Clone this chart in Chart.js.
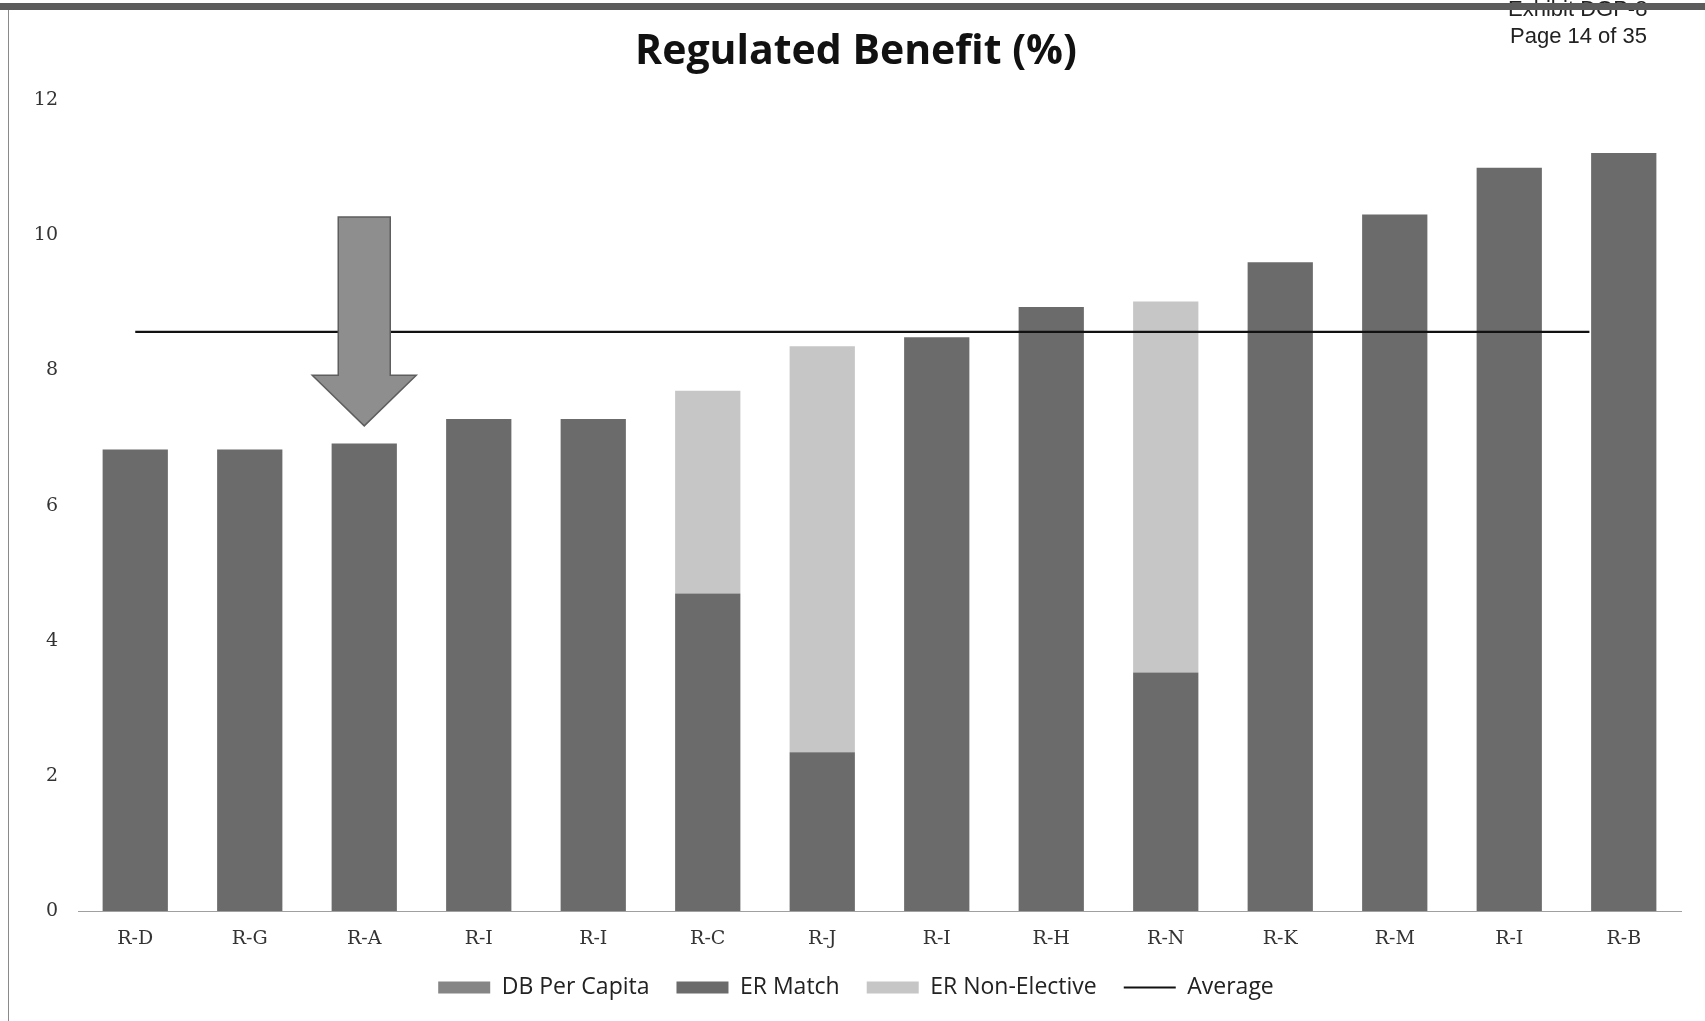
<!DOCTYPE html>
<html>
<head>
<meta charset="utf-8">
<script src="https://cdn.jsdelivr.net/npm/chart.js@4.4.1/dist/chart.umd.min.js"></script>
<style>
  html, body { margin: 0; padding: 0; background: #fff; }
  #wrap { position: relative; width: 1705px; height: 1021px; overflow: hidden; background: #fff; }
  #chart { position: absolute; left: 0; top: 0; }
  .hdr { position: absolute; font-family: "Liberation Sans", Arial, sans-serif; font-size: 22px; line-height: 22px; color: #222; white-space: nowrap; }
  #frameTop { position: absolute; left: 0; top: 3px; width: 1705px; height: 7px; background: #5c5c5c; }
  #frameLeft { position: absolute; left: 8px; top: 10px; width: 1px; height: 1011px; background: #8a8a8a; }
</style>
</head>
<body>
<div id="wrap">
  <canvas id="chart" width="1705" height="1021"></canvas>
  <div class="hdr" style="left:1508px; top:-2px;">Exhibit DGP-8</div>
  <div class="hdr" style="left:1510px; top:25px;">Page 14 of 35</div>
  <div id="frameTop"></div>
  <div id="frameLeft"></div>
</div>
<script>
// Plan categories, left to right
const categories = ['R-D', 'R-G', 'R-A', 'R-I', 'R-I', 'R-C', 'R-J', 'R-I', 'R-H', 'R-N', 'R-K', 'R-M', 'R-I', 'R-B'];

// Benefit components, percent of pay
const dbPerCapita   = [0, 0, 0, 0, 0, 0, 0, 0, 0, 0, 0, 0, 0, 0];
const erMatch       = [6.83, 6.83, 6.92, 7.28, 7.28, 4.70, 2.35, 8.49, 8.94, 3.53, 9.60, 10.31, 11.00, 11.22];
const erNonElective = [0, 0, 0, 0, 0, 3.00, 6.01, 0, 0, 5.49, 0, 0, 0, 0];

// Peer average and the category span the average line covers
const averageValue = 8.57;
const averageSpan = [0, 12.7];

// Value axis ticks
const yTicks = [0, 2, 4, 6, 8, 10, 12];

// Callout arrow pointing at the highlighted plan (values on the y scale)
const arrowCategory = 2;
const arrowTop = 10.27;
const arrowHeadBase = 7.93;
const arrowTip = 7.18;

const arrowPlugin = {
  id: 'calloutArrow',
  afterDatasetsDraw(chart) {
    const { ctx, scales: { x, y } } = chart;
    const cx = x.getPixelForValue(arrowCategory);
    const shaft = 26, head = 52;
    const yTop = y.getPixelForValue(arrowTop);
    const yBase = y.getPixelForValue(arrowHeadBase);
    const yTip = y.getPixelForValue(arrowTip);
    ctx.save();
    ctx.beginPath();
    ctx.moveTo(cx - shaft, yTop);
    ctx.lineTo(cx + shaft, yTop);
    ctx.lineTo(cx + shaft, yBase);
    ctx.lineTo(cx + head, yBase);
    ctx.lineTo(cx, yTip);
    ctx.lineTo(cx - head, yBase);
    ctx.lineTo(cx - shaft, yBase);
    ctx.closePath();
    ctx.fillStyle = '#8e8e8e';
    ctx.fill();
    ctx.lineWidth = 1.5;
    ctx.strokeStyle = '#5e5e5e';
    ctx.stroke();
    ctx.restore();
  }
};

new Chart(document.getElementById('chart'), {
  type: 'bar',
  data: {
    labels: categories,
    datasets: [
      { label: 'DB Per Capita', data: dbPerCapita, backgroundColor: '#858585', order: 2 },
      { label: 'ER Match', data: erMatch, backgroundColor: '#6b6b6b', order: 2 },
      { label: 'ER Non-Elective', data: erNonElective, backgroundColor: '#c6c6c6', order: 2 },
      {
        type: 'line', label: 'Average', xAxisID: 'x2', order: 1,
        data: averageSpan.map(v => ({ x: v, y: averageValue })),
        borderColor: '#111', backgroundColor: '#111', borderWidth: 2.2, pointRadius: 0
      }
    ]
  },
  options: {
    responsive: false,
    animation: false,
    layout: { padding: { left: 31, right: 24, top: 8, bottom: 12 } },
    datasets: { bar: { barPercentage: 0.57, categoryPercentage: 1, grouped: false } },
    plugins: {
      title: {
        display: true,
        text: 'Regulated Benefit (%)',
        color: '#111',
        font: { family: '"Open Sans", sans-serif', size: 41, weight: 'bold' },
        padding: { top: 20, bottom: 23 }
      },
      legend: {
        position: 'bottom',
        labels: {
          usePointStyle: true,
          pointStyleWidth: 52,
          boxHeight: 12,
          padding: 27,
          color: '#222',
          font: { family: '"Open Sans", sans-serif', size: 23, lineHeight: 1 },
          sort: (a, b) => a.datasetIndex - b.datasetIndex,
          generateLabels(chart) {
            const items = Chart.defaults.plugins.legend.labels.generateLabels(chart);
            items.forEach(it => {
              const ds = chart.data.datasets[it.datasetIndex];
              if (ds.type === 'line') {
                it.pointStyle = 'line';
                it.strokeStyle = '#111';
                it.lineWidth = 2.2;
              } else {
                it.pointStyle = 'rect';
                it.lineWidth = 0;
                it.strokeStyle = it.fillStyle;
              }
            });
            return items;
          }
        }
      },
      tooltip: { enabled: false }
    },
    scales: {
      x: {
        stacked: true,
        grid: { display: false, drawTicks: false },
        border: { display: true, color: '#a0a0a0', dash: [2, 2] },
        ticks: { font: { family: '"DejaVu Serif", serif', size: 19 }, color: '#333', padding: 17 },
        afterFit(scale) { scale.height = 38; }
      },
      x2: { type: 'linear', display: false, offset: false, min: -0.5, max: 13.5 },
      y: {
        stacked: true,
        min: 0,
        max: 12,
        afterBuildTicks(scale) { scale.ticks = yTicks.map(v => ({ value: v })); },
        afterFit(scale) { scale.width = 47; },
        grid: { display: false, drawTicks: false },
        border: { display: false },
        ticks: { font: { family: '"DejaVu Serif", serif', size: 19 }, color: '#333', padding: 20 }
      }
    }
  },
  plugins: [arrowPlugin]
});
</script>
</body>
</html>
